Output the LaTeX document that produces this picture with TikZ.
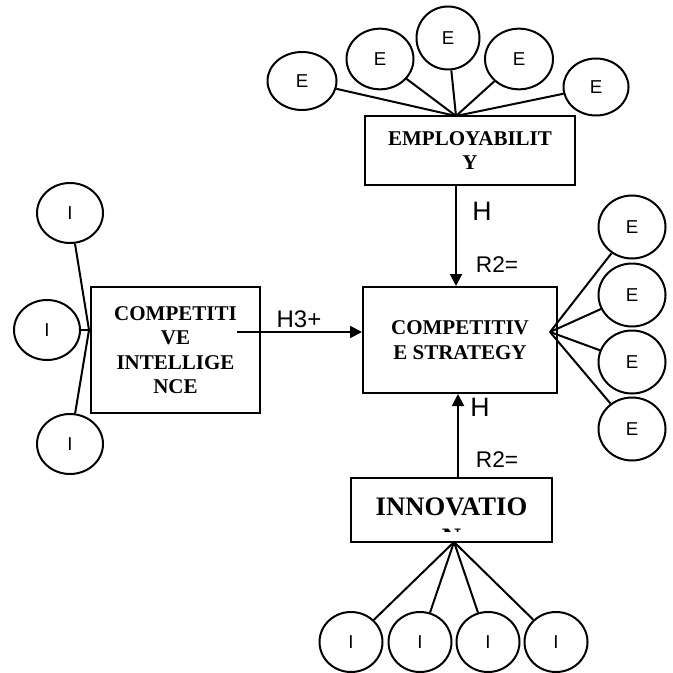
\documentclass[tikz,border=0pt]{standalone}
\usepackage{fontspec}
\setmainfont{Liberation Serif}
\setsansfont{Liberation Sans}
\usetikzlibrary{shapes.geometric, arrows.meta}
\tikzstyle{factor} = [
    rectangle,
    draw=black,
    line width=1.5pt,
    inner sep=0pt,
    align=center,
    font=\rmfamily\bfseries\fontsize{15.75}{18.4}\selectfont
]
\tikzstyle{indicator} = [
    ellipse,
    draw=black,
    line width=1.5pt,
    inner sep=0pt,
    minimum width=49.5pt,
    minimum height=45.5pt,
    font=\sffamily\fontsize{14}{16}\selectfont
]
\tikzstyle{pathtext} = [inner sep=0pt, font=\sffamily\fontsize{17}{19}\selectfont]
\tikzstyle{link} = [line width=1.5pt]
\tikzstyle{arrow} = [line width=1.5pt,-{Triangle[length=9pt,width=9pt]}]

\begin{document}
\begin{tikzpicture}[x=0.75pt, y=-0.75pt]
\useasboundingbox (0,0) rectangle (673,673);

\node (emp) [factor, minimum width=157.5pt, minimum height=51.75pt] at (470,150.5)
{EMPLOYABILIT\\Y};

\node (cs) [factor, minimum width=145.5pt, minimum height=79.5pt] at (460,340)
{COMPETITIV\\E STRATEGY};

\node (ci) [factor, minimum width=126.75pt, minimum height=94.5pt] at (175.5,350)
{COMPETITI\\VE\\INTELLIGE\\NCE};

\node (inn) [factor, minimum width=150.75pt, minimum height=48pt] at (451.5,510) {};
\begin{scope}
\clip (353,480) rectangle (550,531);
\node (innword) [inner sep=0pt, anchor=base, font=\rmfamily\bfseries\fontsize{20}{23}\selectfont] at (451.5,515) {INNOVATIO};
\node (innrest) [inner sep=0pt, anchor=base, font=\rmfamily\bfseries\fontsize{20}{23}\selectfont] at (451.5,546) {N};
\end{scope}

% employability items
\node (e1) [indicator, minimum width=51.75pt, minimum height=43.5pt] at (302,81) {E};
\node (e2) [indicator, minimum width=50.25pt] at (380,59) {E};
\node (e3) [indicator, minimum width=47.25pt, minimum height=47.25pt] at (448,38) {E};
\node (e4) [indicator, minimum width=51pt] at (519,59) {E};
\node (e5) [indicator, minimum width=48.75pt, minimum height=42.75pt] at (596,87) {E};

% strategy items
\node (s1) [indicator, minimum width=50.25pt, minimum height=47.25pt] at (632,227) {E};
\node (s2) [indicator, minimum width=50.25pt, minimum height=47.25pt] at (632,295) {E};
\node (s3) [indicator, minimum width=50.25pt, minimum height=47.25pt] at (632,362) {E};
\node (s4) [indicator, minimum width=50.25pt, minimum height=47.25pt] at (632,429) {E};

% intelligence items
\node (i1) [indicator, minimum height=45pt] at (70,213) {I};
\node (i2) [indicator, minimum height=45pt] at (47,330) {I};
\node (i3) [indicator, minimum height=45pt] at (70,444) {I};

% innovation items
\node (n1) [indicator, minimum width=47.25pt, minimum height=45pt] at (351,642) {I};
\node (n2) [indicator, minimum width=47.25pt, minimum height=45pt] at (420,642) {I};
\node (n3) [indicator, minimum width=47.25pt, minimum height=45pt] at (488,642) {I};
\node (n4) [indicator, minimum width=47.25pt, minimum height=45pt] at (556,642) {I};

\coordinate (ehub) at (456,116);
\coordinate (shub) at (550,332);
\coordinate (ihub) at (89,330);
\coordinate (nhub) at (454,542);
\coordinate (hstart) at (237,332);
\coordinate (nup) at (458,478);

\draw [link] (ehub) -- (e1);
\draw [link] (ehub) -- (e2);
\draw [link] (ehub) -- (e3);
\draw [link] (ehub) -- (e4);
\draw [link] (ehub) -- (e5);

\draw [link] (shub) -- (s1);
\draw [link] (shub) -- (s2);
\draw [link] (shub) -- (s3);
\draw [link] (shub) -- (s4);

\draw [link] (ihub) -- (i1);
\draw [link] (ihub) -- (i2);
\draw [link] (ihub) -- (i3);

\draw [link] (nhub) -- (n1);
\draw [link] (nhub) -- (n2);
\draw [link] (nhub) -- (n3);
\draw [link] (nhub) -- (n4);

\draw [arrow] (emp.south -| ehub) -- (cs.north -| ehub);
\draw [arrow] (hstart) -- (cs.west |- hstart);
\draw [arrow] (nup) -- (cs.south -| nup);

\node (h1) [pathtext, font=\sffamily\fontsize{20}{22}\selectfont] at (482,211) {H};
\node (r1) [pathtext] at (497,265) {R2=};
\node (h3) [pathtext, font=\sffamily\fontsize{18}{20}\selectfont] at (299,319) {H3+};
\node (h2) [pathtext, font=\sffamily\fontsize{20}{22}\selectfont] at (480,407) {H};
\node (r2) [pathtext] at (497,460) {R2=};

\end{tikzpicture}
\end{document}
